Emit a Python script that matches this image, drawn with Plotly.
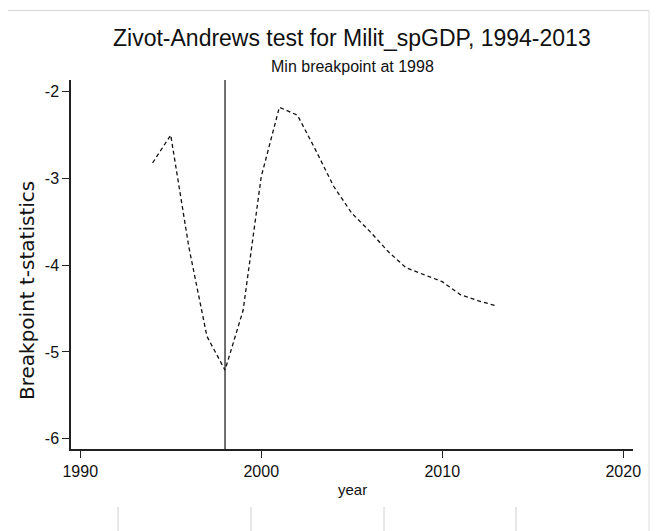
import plotly.graph_objects as go

years = list(range(1994, 2014))
tstats = [-2.82, -2.50, -3.79, -4.82, -5.21, -4.52, -2.98, -2.18, -2.27, -2.67,
          -3.09, -3.40, -3.61, -3.84, -4.03, -4.11, -4.19, -4.34, -4.41, -4.47]
break_year = 1998
x_ticks = [1990, 2000, 2010, 2020]
y_ticks = [-2, -3, -4, -5, -6]
y_tick_labels = ["-2", "-3", "-4", "-5", "-6"]

FONT = "Liberation Sans, Arial, sans-serif"

# page offset of 8px (body margin) -> paper coords helpers
def px(x):
    return (x - 71) / 562

def py(y):
    return (449 - y) / 369

fig = go.Figure()
fig.add_trace(go.Scatter(
    x=years, y=tstats, mode="lines",
    line=dict(color="#111111", width=1.3, dash="4px,3px"),
    showlegend=False, hoverinfo="x+y"))

fig.add_shape(type="line", xref="x", yref="y domain",
              x0=break_year, x1=break_year, y0=0, y1=1,
              line=dict(color="#222222", width=1.3))

# document frame artifacts (light gray)
fig.add_shape(type="line", xref="paper", yref="paper", x0=px(8), x1=px(649),
              y0=py(10.5), y1=py(10.5), line=dict(color="#d8d8d8", width=1))
for xp in [118, 251, 384, 516]:
    fig.add_shape(type="line", xref="paper", yref="paper",
                  x0=px(xp), x1=px(xp), y0=py(507), y1=py(531),
                  line=dict(color="#d0d0d0", width=1))
fig.add_shape(type="line", xref="paper", yref="paper",
              x0=px(649), x1=px(649), y0=py(531), y1=py(10.5),
              line=dict(color="#dcdcdc", width=1))

fig.update_layout(
    width=652, height=523,
    margin=dict(l=63, r=27, t=72, b=82),
    paper_bgcolor="white", plot_bgcolor="white",
    font=dict(family=FONT, color="#111111", size=16),
    xaxis=dict(range=[1989.49, 2020.54], tickvals=x_ticks,
               ticks="outside", ticklen=7, tickwidth=1.4, tickcolor="#222",
               showline=True, linecolor="#222", linewidth=1.5,
               showgrid=False, zeroline=False,
               tickfont=dict(size=16, family=FONT)),
    yaxis=dict(range=[-6.119, -1.865], tickvals=y_ticks, ticktext=y_tick_labels,
               ticks="outside", ticklen=7, tickwidth=1.4, tickcolor="#222",
               showline=True, linecolor="#222", linewidth=1.5,
               showgrid=False, zeroline=False,
               tickfont=dict(size=16, family=FONT)),
    annotations=[
        dict(text="Zivot-Andrews test for Milit_spGDP, 1994-2013",
             xref="paper", yref="paper", x=px(352), y=py(38),
             xanchor="center", yanchor="middle", showarrow=False,
             font=dict(size=23, family=FONT, color="#111")),
        dict(text="Min breakpoint at 1998",
             xref="paper", yref="paper", x=px(352), y=py(67),
             xanchor="center", yanchor="middle", showarrow=False,
             font=dict(size=16, family=FONT, color="#111")),
        dict(text="Breakpoint t-statistics",
             xref="paper", yref="paper", x=px(27), y=py(291),
             xanchor="center", yanchor="middle", showarrow=False, textangle=-90,
             font=dict(size=20, family="DejaVu Sans, sans-serif", color="#111")),
        dict(text="year",
             xref="paper", yref="paper", x=px(352), y=py(489),
             xanchor="center", yanchor="middle", showarrow=False,
             font=dict(size=15, family=FONT, color="#111")),
    ],
)

fig.write_html("out.html")
